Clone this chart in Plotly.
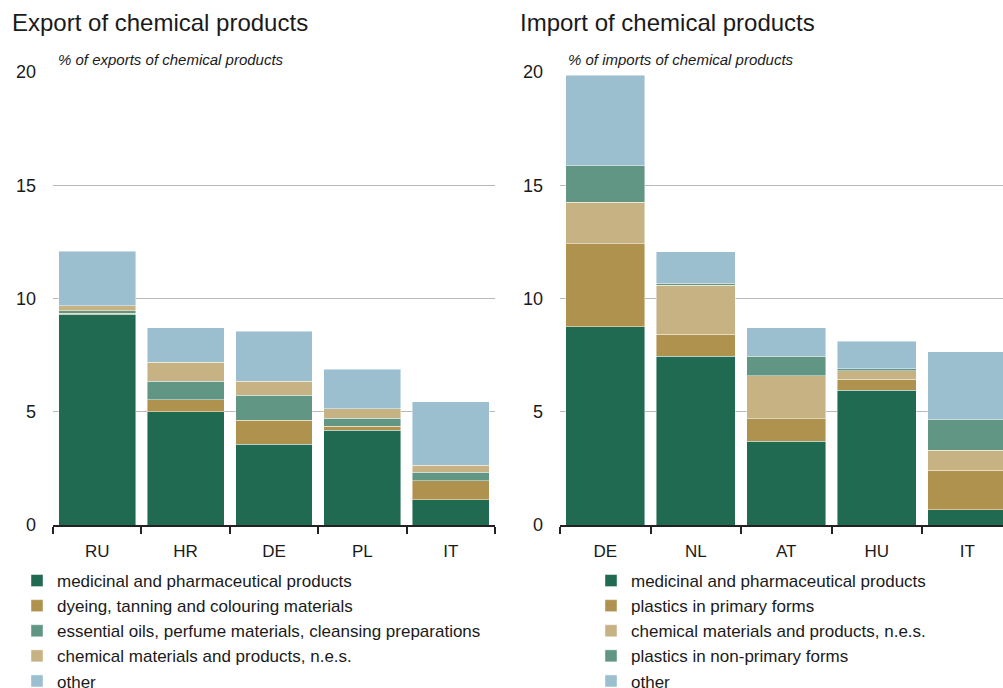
import plotly.graph_objects as go

# Export shares by partner (% of exports of chemical products)
exp_countries = ["RU", "HR", "DE", "PL", "IT"]
exp_medicinal = [9.30, 5.01, 3.56, 4.18, 1.12]
exp_dyeing = [0.05, 0.53, 1.06, 0.18, 0.83]
exp_essential = [0.10, 0.81, 1.11, 0.35, 0.37]
exp_chemical = [0.22, 0.83, 0.62, 0.43, 0.31]
exp_other = [2.41, 1.52, 2.20, 1.73, 2.81]

# Import shares by partner (% of imports of chemical products)
imp_countries = ["DE", "NL", "AT", "HU", "IT"]
imp_medicinal = [8.75, 7.46, 3.70, 5.94, 0.68]
imp_plastics_primary = [3.66, 0.97, 1.00, 0.49, 1.73]
imp_chemical = [1.84, 2.15, 1.89, 0.38, 0.90]
imp_plastics_nonprimary = [1.61, 0.09, 0.86, 0.09, 1.37]
imp_other = [4.00, 1.40, 1.25, 1.22, 2.96]

yticks = [0, 5, 10, 15, 20]

C_DARK = "#1f6a50"
C_GOLD = "#b0924f"
C_SAGE = "#609683"
C_SAND = "#c7b283"
C_BLUE = "#9bbfcf"

FONT = "Liberation Sans, Arial, sans-serif"
TXT = "#1a1a1a"
W, H = 1003, 688

exp_series = [
    ("medicinal and pharmaceutical products", exp_medicinal, C_DARK),
    ("dyeing, tanning and colouring materials", exp_dyeing, C_GOLD),
    ("essential oils, perfume materials, cleansing preparations", exp_essential, C_SAGE),
    ("chemical materials and products, n.e.s.", exp_chemical, C_SAND),
    ("other", exp_other, C_BLUE),
]
imp_series = [
    ("medicinal and pharmaceutical products", imp_medicinal, C_DARK),
    ("plastics in primary forms", imp_plastics_primary, C_GOLD),
    ("chemical materials and products, n.e.s.", imp_chemical, C_SAND),
    ("plastics in non-primary forms", imp_plastics_nonprimary, C_SAGE),
    ("other", imp_other, C_BLUE),
]

fig = go.Figure()
edge = dict(color="rgba(255,255,255,0.55)", width=0.8)

for name, vals, col in exp_series:
    fig.add_trace(go.Bar(x=exp_countries, y=vals, name=name, marker=dict(color=col, line=edge),
                         xaxis="x", yaxis="y", legend="legend"))
for name, vals, col in imp_series:
    fig.add_trace(go.Bar(x=imp_countries, y=vals, name=name, marker=dict(color=col, line=edge),
                         xaxis="x2", yaxis="y2", legend="legend2"))

y_dom = [(H - 525) / H, (H - 72) / H]

xcommon = dict(showline=True, linecolor="#222", linewidth=2, ticks="outside", tickson="boundaries",
               ticklen=7, tickwidth=2, tickcolor="#222", showgrid=False, zeroline=False,
               ticklabelstandoff=10,
               tickfont=dict(size=17, color=TXT, family=FONT), fixedrange=True)
ycommon = dict(range=[0, 20], tickvals=yticks, showgrid=True, gridcolor="#b8b8b8", gridwidth=1,
               zeroline=False, showline=False, ticks="", ticklabelstandoff=16,
               tickfont=dict(size=18, color=TXT, family=FONT), fixedrange=True, domain=y_dom)

legend_common = dict(font=dict(size=17, color=TXT, family=FONT), traceorder="normal",
                     bgcolor="rgba(0,0,0,0)", borderwidth=0, tracegroupgap=0,
                     xanchor="left", yanchor="top", itemclick=False)

fig.update_layout(
    width=W, height=H, margin=dict(l=0, r=0, t=0, b=0, autoexpand=False),
    paper_bgcolor="white", plot_bgcolor="white",
    barmode="stack", bargap=0.13, showlegend=True,
    font=dict(family=FONT, color=TXT),
    xaxis=dict(domain=[53 / W, 495 / W], range=[-0.5, 4.5], anchor="y", **xcommon),
    yaxis=dict(anchor="x", **ycommon),
    xaxis2=dict(domain=[560 / W, 1.0], range=[-0.5, 4.395], anchor="y2", **xcommon),
    yaxis2=dict(anchor="x2", **ycommon),
    legend=dict(x=17 / W, y=1 - 563 / H, **legend_common),
    legend2=dict(x=591 / W, y=1 - 563 / H, **legend_common),
    annotations=[
        dict(text="Export of chemical products", x=10 / W, y=1 - 22 / H, xref="paper", yref="paper",
             xanchor="left", yanchor="middle", showarrow=False, font=dict(size=24, color=TXT, family=FONT)),
        dict(text="Import of chemical products", x=518 / W, y=1 - 22 / H, xref="paper", yref="paper",
             xanchor="left", yanchor="middle", showarrow=False, font=dict(size=24, color=TXT, family=FONT)),
        dict(text="<i>% of exports of chemical products</i>", x=56 / W, y=1 - 59 / H, xref="paper",
             yref="paper", xanchor="left", yanchor="middle", showarrow=False,
             font=dict(size=15, color=TXT, family=FONT)),
        dict(text="<i>% of imports of chemical products</i>", x=566 / W, y=1 - 59 / H, xref="paper",
             yref="paper", xanchor="left", yanchor="middle", showarrow=False,
             font=dict(size=15, color=TXT, family=FONT)),
    ],
)

fig.write_html("out.html")
